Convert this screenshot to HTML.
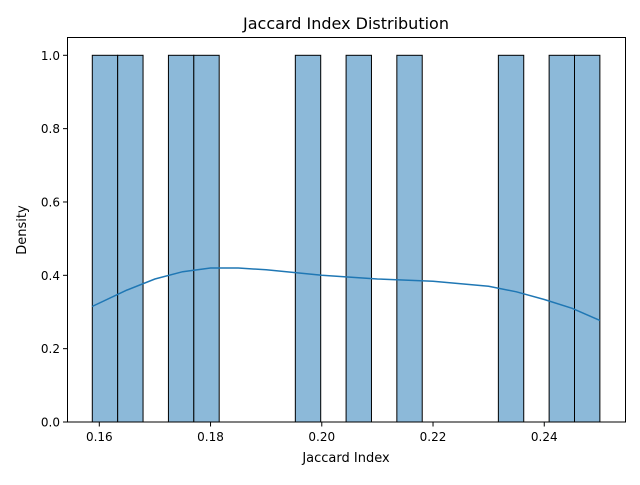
<!DOCTYPE html>
<html><head><meta charset="utf-8"><style>
body{margin:0;background:#fff;}
svg text{font-family:"DejaVu Sans","Liberation Sans",sans-serif;fill:#000;}
</style></head><body>
<svg id="chart" width="640" height="480" xmlns="http://www.w3.org/2000/svg">
<rect width="640" height="480" fill="#fff"/>
<g id="bars"></g>
<path id="kde" fill="none" stroke="#1f77b4" stroke-width="1.5"/>
<rect x="67.5" y="37.5" width="558" height="384.5" fill="none" stroke="#000" stroke-width="1"/>
<g id="xticks"></g>
<g id="yticks"></g>
<text x="346" y="29" font-size="16" text-anchor="middle">Jaccard Index Distribution</text>
<text x="346" y="462" font-size="13" text-anchor="middle">Jaccard Index</text>
<text x="26" y="230" font-size="13" text-anchor="middle" transform="rotate(-90 26 230)">Density</text>
</svg>
<script>
const binStart = 0.15874;
const binEnd = 0.25;
const binCounts = [1,1,0,1,1,0,0,0,1,0,1,0,1,0,0,0,1,0,1,1];
const kdeX = [0.1587,0.165,0.17,0.175,0.18,0.185,0.19,0.2,0.21,0.22,0.23,0.235,0.24,0.245,0.25];
const kdeY = [0.315,0.36,0.39,0.41,0.42,0.42,0.415,0.40,0.39,0.384,0.37,0.355,0.334,0.31,0.277];
const xTicks = [0.16,0.18,0.20,0.22,0.24];
const xTickLabels = ["0.16","0.18","0.20","0.22","0.24"];
const yTicks = [0,0.2,0.4,0.6,0.8,1.0];
const yTickLabels = ["0.0","0.2","0.4","0.6","0.8","1.0"];

const NS="http://www.w3.org/2000/svg";
function xs(v){return 99.3+(v-0.16)*5562;}
function ys(v){return 422-v*366.7;}
function mk(tag,attrs,parent){const e=document.createElementNS(NS,tag);for(const k in attrs)e.setAttribute(k,attrs[k]);parent.appendChild(e);return e;}

const bw=(binEnd-binStart)/binCounts.length;
const bg=document.getElementById('bars');
binCounts.forEach((c,i)=>{
  if(c<=0)return;
  const x0=xs(binStart+i*bw),x1=xs(binStart+(i+1)*bw);
  const r=mk('rect',{x:x0,y:ys(c),width:x1-x0,height:ys(0)-ys(c),fill:'#8cb9d9',stroke:'#000','stroke-width':1},bg);
  
  
});
document.getElementById('kde').setAttribute('d',kdeX.map((v,i)=>(i?'L':'M')+xs(v).toFixed(1)+' '+ys(kdeY[i]).toFixed(1)).join(' '));

const xg=document.getElementById('xticks');
xTicks.forEach((v,i)=>{
  const l=mk('line',{x1:xs(v),x2:xs(v),y1:422,y2:426.5,stroke:'#000'},xg);
  
  
  const t=mk('text',{x:xs(v),y:441,'font-size':12,'text-anchor':'middle'},xg);
  t.textContent=xTickLabels[i];
  
  
});
const yg=document.getElementById('yticks');
yTicks.forEach((v,i)=>{
  const l=mk('line',{x1:63,x2:67.5,y1:ys(v),y2:ys(v),stroke:'#000'},yg);
  
  
  const t=mk('text',{x:60,y:ys(v)+4.5,'font-size':12,'text-anchor':'end'},yg);
  t.textContent=yTickLabels[i];
  
  
});
</script>
</body></html>
